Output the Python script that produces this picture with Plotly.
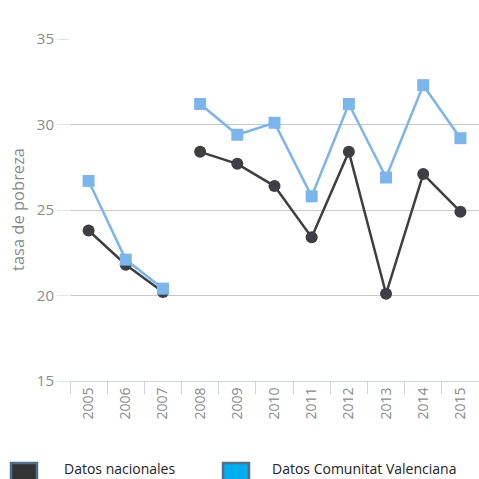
import plotly.graph_objects as go

years = ["2005", "2006", "2007", "2008", "2009", "2010", "2011", "2012", "2013", "2014", "2015"]
nacional = [23.8, 21.8, 20.2, 28.4, 27.7, 26.4, 23.4, 28.4, 20.1, 27.1, 24.9]
valenciana = [26.7, 22.1, 20.4, 31.2, 29.4, 30.1, 25.8, 31.2, 26.9, 32.3, 29.2]
segments = [(0, 3), (3, 11)]  # the series are broken between 2007 and 2008
y_ticks = [15, 20, 25, 30, 35]

DARK = "#3f3f43"
LIGHT = "#7cb5ec"

W = H = 479
L, R, T, B = 70, 0, 39, 98
PW, PH = W - L - R, H - T - B

def px(x):
    return (x - L) / PW

def py(y):
    return (H - B - y) / PH

fig = go.Figure()
for name, vals, color, sym in [("Datos nacionales", nacional, DARK, "circle"),
                               ("Datos Comunitat Valenciana", valenciana, LIGHT, "square")]:
    for a, b in segments:
        fig.add_trace(go.Scatter(
            x=years[a:b], y=vals[a:b], mode="lines+markers", name=name,
            line=dict(color=color, width=2.5),
            marker=dict(color=color, symbol=sym, size=12),
            showlegend=False, cliponaxis=False,
        ))

fig.update_layout(
    width=W, height=H,
    margin=dict(l=L, r=R, t=T, b=B),
    paper_bgcolor="white", plot_bgcolor="white",
    font=dict(family="Open Sans", color="#8a8a8a"),
    showlegend=False,
)
fig.update_xaxes(
    type="category", categoryorder="array", categoryarray=years,
    tickson="boundaries", ticks="outside", ticklen=12, tickwidth=1, tickcolor="#ccd6e3",
    showline=True, linecolor="#ccd6e3", linewidth=1,
    showgrid=False, tickangle=-90,
    tickfont=dict(family="Open Sans", size=14, color="#8a8a8a"),
    range=[-0.5, 10.5],
)
fig.update_yaxes(
    range=[15, 35], tickvals=y_ticks,
    showgrid=True, gridcolor="#c8c8c8", gridwidth=1,
    ticks="outside", ticklen=12, tickcolor="#dde6ef", tickwidth=1,
    ticklabelstandoff=0,
    tickfont=dict(family="Open Sans", size=15, color="#8a8a8a"),
    zeroline=False, showline=False,
)

# y axis title
fig.add_annotation(x=px(17), y=py(210), xref="paper", yref="paper", text="tasa de pobreza",
                   textangle=-90, showarrow=False, xanchor="center", yanchor="middle",
                   font=dict(family="Open Sans", size=16.5, color="#8a8a8a"))

# legend drawn manually
for x0, fill, label, tx in [(10, "#333333", "Datos nacionales", 62),
                            (222, "#00aeef", "Datos Comunitat Valenciana", 270)]:
    fig.add_shape(type="rect", xref="paper", yref="paper",
                  x0=px(x0 + 1), x1=px(x0 + 27), y0=py(463), y1=py(485),
                  fillcolor=fill, line=dict(color="#4f6f8f", width=2.5))
    fig.add_annotation(x=px(tx), y=py(468), xref="paper", yref="paper", text=label,
                       xanchor="left", yanchor="middle", showarrow=False,
                       font=dict(family="Open Sans", size=14, color="#222222"))

fig.write_html("out.html", config={"displayModeBar": False},
               post_script="document.body.style.margin='0';document.body.style.overflow='hidden';")
